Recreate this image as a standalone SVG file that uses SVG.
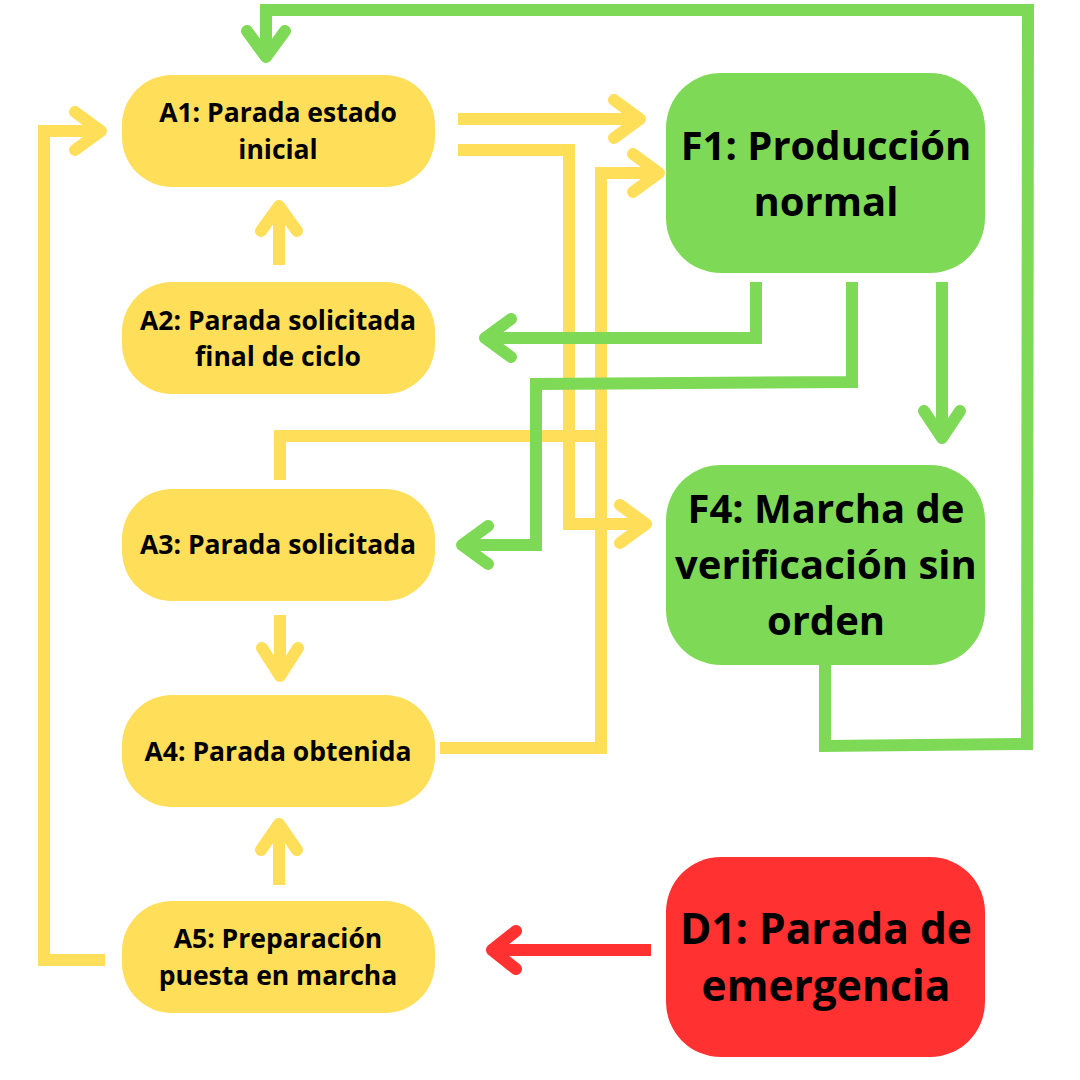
<svg xmlns="http://www.w3.org/2000/svg" width="1080" height="1080" viewBox="0 0 1080 1080">
<style>
.ya{fill:#FFDE59}
.gr{fill:#7ED957}
.rd{fill:#FF3131}
.t{font-family:"Open Sans","Liberation Sans",sans-serif;font-weight:bold;fill:#000;text-anchor:middle}
.s{font-size:26.5px}
.l{font-size:40px}
.xl{font-size:42.5px}
.cy{fill:none;stroke:#FFDE59;stroke-width:12}
.cg{fill:none;stroke:#7ED957;stroke-width:12}
.cr{fill:none;stroke:#FF3131;stroke-width:12}
.h{stroke-linecap:round;stroke-linejoin:round}
</style>
<rect width="1080" height="1080" fill="#fff"/>
<g id="connectors">
  <!-- F4 -> A1 (green loop) -->
  <path class="cg" d="M825,664 V746 L1027,744 L1028,10 H266 V56"/>
  <polyline class="cg h" points="247,31 266,57 285,31"/>
  <!-- A1 -> F1 -->
  <path class="cy" d="M458,119 H638"/>
  <polyline class="cy h" points="614,100 640,119 614,138"/>
  <!-- A1 -> F4 -->
  <path class="cy" d="M458,150 H569 V524 H643"/>
  <polyline class="cy h" points="620,505 646,524 620,543"/>
  <!-- A4 -> F1 -->
  <path class="cy" d="M440,748 H601 V173 H655"/>
  <polyline class="cy h" points="633,154 659,173 633,192"/>
  <!-- A3 -> joins -->
  <path class="cy" d="M280,480 V436 H607"/>
  <!-- A2 -> A1 -->
  <path class="cy" d="M279,265 V207"/>
  <polyline class="cy h" points="261,231 279,206 297,231"/>
  <!-- A3 -> A4 -->
  <path class="cy" d="M280,615 V674"/>
  <polyline class="cy h" points="262,648 280,676 298,648"/>
  <!-- A5 -> A4 -->
  <path class="cy" d="M279,885 V826"/>
  <polyline class="cy h" points="261,850 279,824 297,850"/>
  <!-- A5 -> A1 -->
  <path class="cy" d="M105,960 H44 V131 H100"/>
  <polyline class="cy h" points="75,112 101,131 75,150"/>
  <!-- F1 -> A2 -->
  <path class="cg" d="M756,282 V338 H487"/>
  <polyline class="cg h" points="511,319 485,338 511,357"/>
  <!-- F1 -> A3 -->
  <path class="cg" d="M852,282 V382 L536,384 V545 H465"/>
  <polyline class="cg h" points="488,526 462,545 488,564"/>
  <!-- F1 -> F4 -->
  <path class="cg" d="M942,282 V437"/>
  <polyline class="cg h" points="924,411 942,438 960,411"/>
  <!-- D1 -> A5 -->
  <path class="cr" d="M651,950 H494"/>
  <polyline class="cr h" points="516,931 492,950 516,969"/>
</g>
<g id="A1">
  <rect class="ya" x="122" y="75" width="313" height="112" rx="50"/>
  <text class="t s" x="278" y="122">A1: Parada estado</text>
  <text class="t s" x="278" y="159">inicial</text>
</g>
<g id="A2">
  <rect class="ya" x="122" y="282" width="313" height="112" rx="50"/>
  <text class="t s" x="278" y="330">A2: Parada solicitada</text>
  <text class="t s" x="278" y="366">final de ciclo</text>
</g>
<g id="A3">
  <rect class="ya" x="122" y="489" width="313" height="112" rx="50"/>
  <text class="t s" x="278" y="554">A3: Parada solicitada</text>
</g>
<g id="A4">
  <rect class="ya" x="122" y="695" width="313" height="112" rx="50"/>
  <text class="t s" x="278" y="761">A4: Parada obtenida</text>
</g>
<g id="A5">
  <rect class="ya" x="122" y="901" width="313" height="112" rx="50"/>
  <text class="t s" x="278" y="948">A5: Preparación</text>
  <text class="t s" x="278" y="985">puesta en marcha</text>
</g>
<g id="F1">
  <rect class="gr" x="666" y="73" width="319" height="200" rx="55"/>
  <text class="t l" x="826" y="160">F1: Producción</text>
  <text class="t l" x="826" y="216">normal</text>
</g>
<g id="F4">
  <rect class="gr" x="666" y="465" width="319" height="200" rx="55"/>
  <text class="t l" x="826" y="523">F4: Marcha de</text>
  <text class="t l" x="826" y="579">verificación sin</text>
  <text class="t l" x="826" y="635">orden</text>
</g>
<g id="D1">
  <rect class="rd" x="666" y="857" width="319" height="200" rx="55"/>
  <text class="t xl" x="826" y="944">D1: Parada de</text>
  <text class="t xl" x="826" y="1001">emergencia</text>
</g>
</svg>
